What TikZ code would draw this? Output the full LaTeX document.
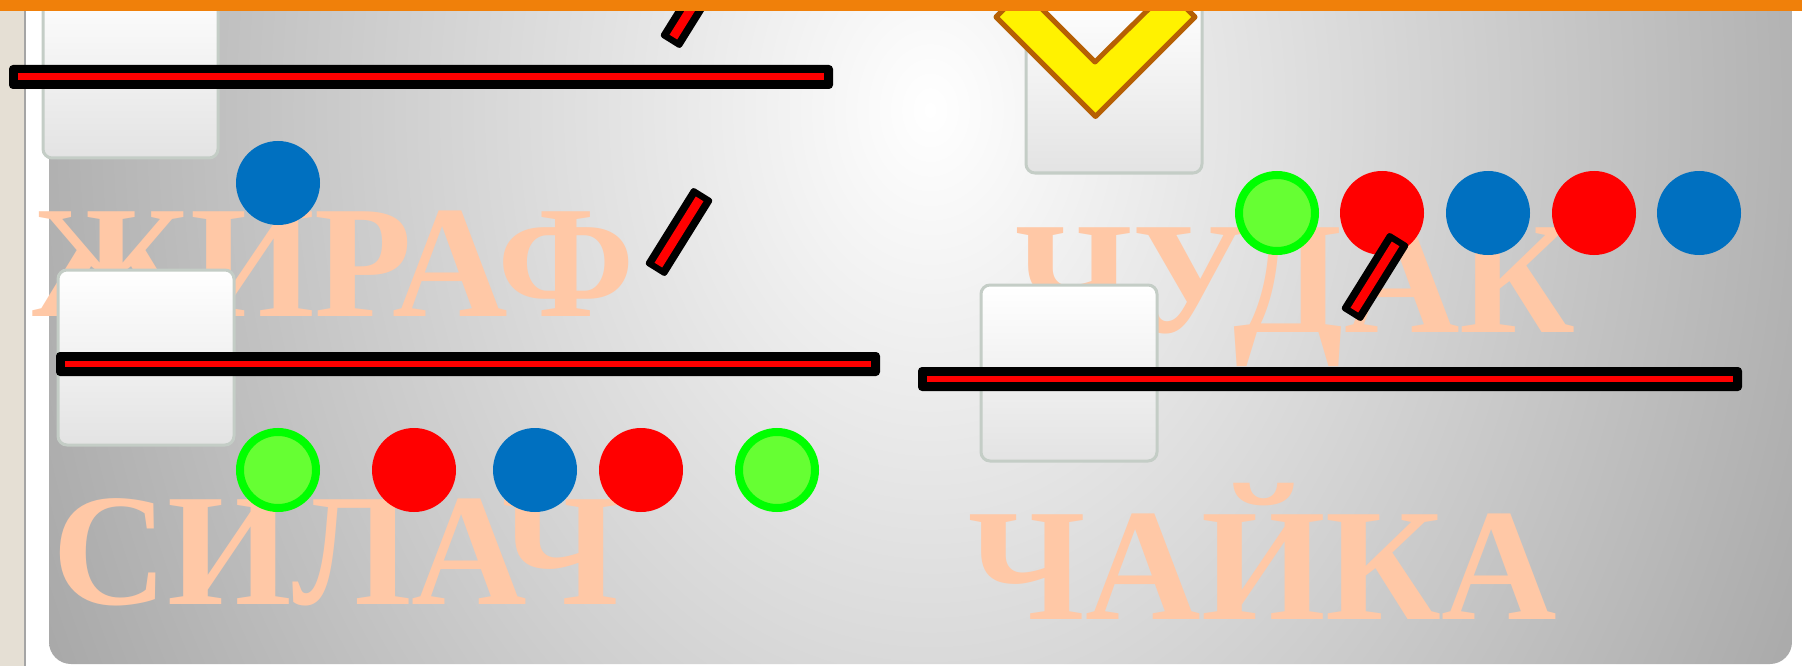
\documentclass[tikz,border=0pt]{standalone}
\usepackage{fontspec}
\setmainfont{Liberation Serif}
\newfontfamily\wordfont{Liberation Serif Bold}
\definecolor{peach}{RGB}{255,200,166}
\definecolor{beige}{RGB}{229,223,212}
\definecolor{stripline}{RGB}{165,165,165}
\definecolor{cardedge}{RGB}{196,205,198}
\definecolor{cblue}{RGB}{0,112,192}
\definecolor{cred}{RGB}{255,0,0}
\definecolor{cgreen}{RGB}{102,255,51}
\definecolor{cgreenedge}{RGB}{0,255,0}
\definecolor{vbrown}{RGB}{182,96,4}
\definecolor{topbar}{RGB}{240,128,10}
\pgfdeclareradialshading{panelglow}{\pgfpoint{0bp}{0bp}}{color(0bp)=(white); color(25bp)=(black!40); color(50bp)=(black!40)}
\begin{document}
\begin{tikzpicture}[x=1pt,y=-1pt,
  word/.style={text=peach, inner sep=0pt, anchor=base west, font=\wordfont\fontsize{160}{160}\selectfont},
  card/.style={draw=cardedge, line width=3pt, rounded corners=9pt, top color=white, bottom color=black!11},
  dotblue/.style={fill=cblue},
  dotred/.style={fill=cred},
  dotgreen/.style={fill=cgreen, draw=cgreenedge, line width=8pt},
  vmark/.style={fill=yellow, draw=vbrown, line width=5pt, line join=round},
  longbar/.pic={\fill[black, rounded corners=4pt] (0,0) rectangle (824,24);
                \fill[cred] (9,8.5) rectangle (815,15);},
  stick/.pic={\fill[black, rounded corners=3pt] (-45.5,-12.2) rectangle (45.5,12.2);
              \fill[cred] (-39,-4.5) rectangle (39,4.5);}
]
\useasboundingbox (0,0) rectangle (1802,666);
\clip (0,0) rectangle (1802,666);
% page background
\fill[white] (0,0) rectangle (1802,666);
\fill[beige] (0,0) rectangle (24,666);
\fill[stripline] (24,0) rectangle (26,666);
% panel
\begin{scope}
  \clip[rounded corners=22pt] (49,-40) rectangle (1792,664);
  \shade[shading=panelglow] (930,110) ellipse [x radius=1150, y radius=1500];
\end{scope}
% words
\node[word] (w1) at (32,316) {ЖИРАФ};
\node[word] (w2) at (1015,332) {ЧУДАК};
\node[word] (w3) at (52,604) {СИЛАЧ};
\node[word] (w4) at (968,619) {ЧАЙКА};
% cards
\path[card] (43,-17) rectangle (218,158);
\path[card] (58,270) rectangle (234,445);
\path[card] (1026,-2) rectangle (1202,173);
\path[card] (981,285) rectangle (1157,461);
% long bars
\pic at (9,65) {longbar};
\pic at (56,352) {longbar};
\pic at (918,367) {longbar};
% sound dots
\fill[dotblue] (278,183) circle (42);
\filldraw[dotgreen] (1277,213) circle (38);
\fill[dotred] (1382,213) circle (42);
\fill[dotblue] (1488,213) circle (42);
\fill[dotred] (1594,213) circle (42);
\fill[dotblue] (1699,213) circle (42);
\filldraw[dotgreen] (278,470) circle (38);
\fill[dotred] (414,470) circle (42);
\fill[dotblue] (535,470) circle (42);
\fill[dotred] (641,470) circle (42);
\filldraw[dotgreen] (777,470) circle (38);
% sticks
\pic[rotate=58.1] at (694,4) {stick};
\pic[rotate=58.1] at (679,232) {stick};
\pic[rotate=58.1] at (1375,277) {stick};
% check mark
\filldraw[vmark] (996,17) -- (1095.5,116.5) -- (1195,17) -- (1168,-10) -- (1095,62) -- (1023,-10) -- cycle;
% top bar
\fill[topbar] (0,0.5) rectangle (1802,11);
\end{tikzpicture}
\end{document}
